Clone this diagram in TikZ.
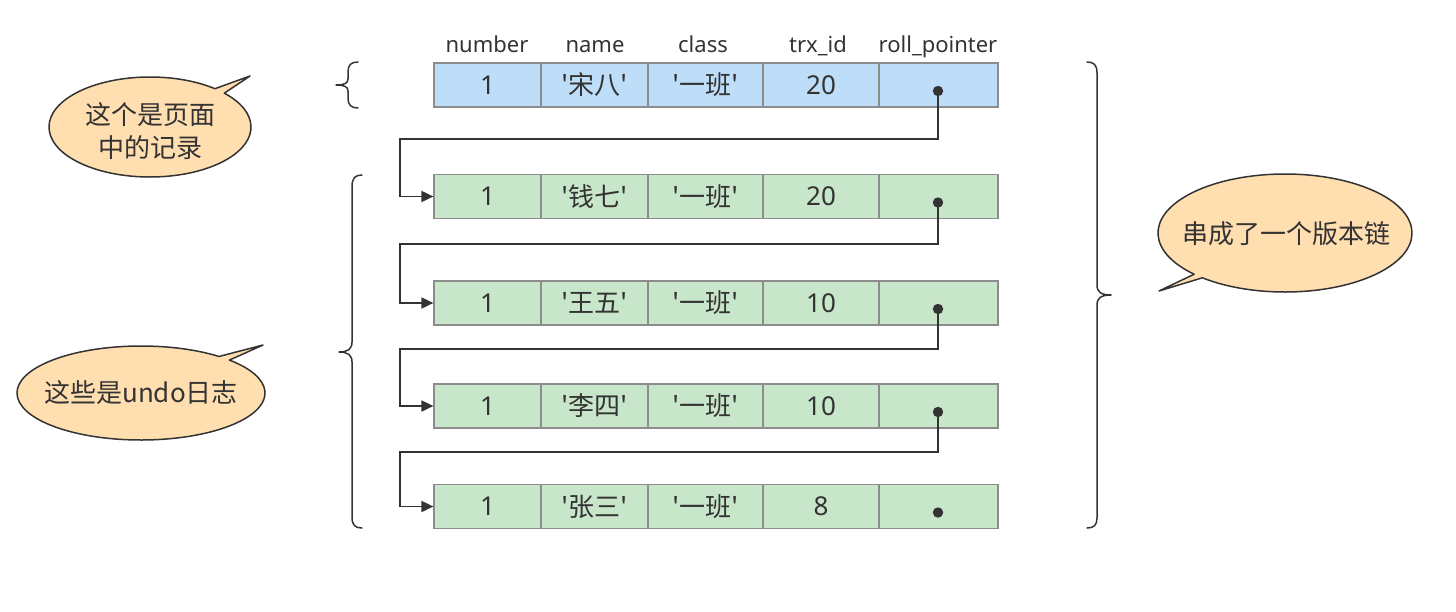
\documentclass[tikz,border=0pt]{standalone}
\usepackage{fontspec}
\setmainfont{Noto Sans CJK SC}
\newfontfamily\latf{Noto Sans}
\newfontfamily\cjk{Noto Sans CJK SC}
\usetikzlibrary{arrows.meta}
\definecolor{bluec}{RGB}{189,221,248}
\definecolor{greenc}{RGB}{200,230,201}
\definecolor{cellb}{RGB}{140,140,140}
\definecolor{ink}{RGB}{51,51,51}
\definecolor{callfill}{RGB}{255,222,176}
\begin{document}
\begin{tikzpicture}[x=1pt,y=1pt,
  cell/.style={draw=cellb, line width=1.2pt, minimum height=44pt, inner sep=0pt, text=ink, font=\cjk\fontsize{26}{30}\selectfont},
  hdr/.style={text=ink, inner sep=0pt, anchor=base, font=\latf\fontsize{22}{26}\selectfont},
  conn/.style={draw=ink, line width=1.8pt},
  arr/.style={conn, -{Triangle[length=12pt,width=11pt]}},
  brace/.style={draw=ink, line width=1.5pt, line cap=round, line join=round},
  callout/.style={draw=ink, fill=callfill, line width=1.5pt, line join=round},
  ctext/.style={text=ink, inner sep=0pt, font=\cjk\fontsize{26}{30}\selectfont}
]
\useasboundingbox (0,0) rectangle (1456,-611);
% headers
\node[hdr] (hnum) at (487,-52) {number};
\node[hdr] (hname) at (595,-52) {name};
\node[hdr] (hclass) at (703,-52) {class};
\node[hdr] (htrx) at (818,-52) {trx\_id};
\node[hdr] (hroll) at (938,-52) {roll\_pointer};
% rows
\foreach \r/\y/\nm/\t/\fc in {1/85/宋八/20/bluec, 2/196.5/钱七/20/greenc, 3/303/王五/10/greenc, 4/406/李四/10/greenc, 5/506.5/张三/8/greenc} {
  \node[cell, fill=\fc, minimum width=107pt] (c\r1) at (487.5,-\y) {\latf 1};
  \node[cell, fill=\fc, minimum width=107pt] (c\r2) at (594.5,-\y) {'\nm'};
  \node[cell, fill=\fc, minimum width=115pt] (c\r3) at (705.5,-\y) {'一班'};
  \node[cell, fill=\fc, minimum width=116pt] (c\r4) at (821,-\y) {\latf \t};
  \node[cell, fill=\fc, minimum width=119pt] (c\r5) at (938.5,-\y) {};
  \coordinate (d\r) at (938,-\y-6);
  \fill[ink] (d\r) circle (5.2pt);
}
% connectors
\coordinate (h1) at (400,-139);
\coordinate (h2) at (400,-244);
\coordinate (h3) at (400,-349);
\coordinate (h4) at (400,-452);
\draw[arr] (d1) |- (h1) |- (c21.west);
\draw[arr] (d2) |- (h2) |- (c31.west);
\draw[arr] (d3) |- (h3) |- (c41.west);
\draw[arr] (d4) |- (h4) |- (c51.west);
% braces
\draw[brace] (358,-62) .. controls (351,-62) and (348,-65) .. (348,-72) -- (348,-79)
  .. controls (348,-83) and (345,-85) .. (336,-85)
  .. controls (345,-85) and (348,-87) .. (348,-91) -- (348,-98)
  .. controls (348,-105) and (351,-108) .. (358,-108);
\draw[brace] (362,-175) .. controls (355,-175) and (352,-178) .. (352,-187) -- (352,-342)
  .. controls (352,-349) and (348,-352) .. (339,-352)
  .. controls (348,-352) and (352,-355) .. (352,-362) -- (352,-517)
  .. controls (352,-525) and (355,-528) .. (362,-528);
\draw[brace] (1087,-62) .. controls (1094,-62) and (1097,-65) .. (1097,-73) -- (1097,-285)
  .. controls (1097,-292) and (1101,-295) .. (1111,-295)
  .. controls (1101,-295) and (1097,-298) .. (1097,-305) -- (1097,-518)
  .. controls (1097,-525) and (1094,-528) .. (1087,-528);
% callouts
\draw[callout] (150,-127) ++(50:101 and 50) arc[start angle=50, end angle=402.6, x radius=101, y radius=50] -- (250,-76) -- cycle;
\node[ctext] (t1a) at (150,-115) {这个是页面};
\node[ctext] (t1b) at (150,-148) {中的记录};
\draw[callout] (141,-393) ++(51:124 and 47) arc[start angle=51, end angle=404.5, x radius=124, y radius=47] -- (263,-345) -- cycle;
\node[ctext] (t2) at (141,-393) {这些是undo日志};
\draw[callout] (1285,-233) ++(229.4:127 and 59) arc[start angle=229.4, end angle=584.3, x radius=127, y radius=59] -- (1159,-291) -- cycle;
\node[ctext] (t3) at (1286,-234) {串成了一个版本链};
\end{tikzpicture}
\end{document}
